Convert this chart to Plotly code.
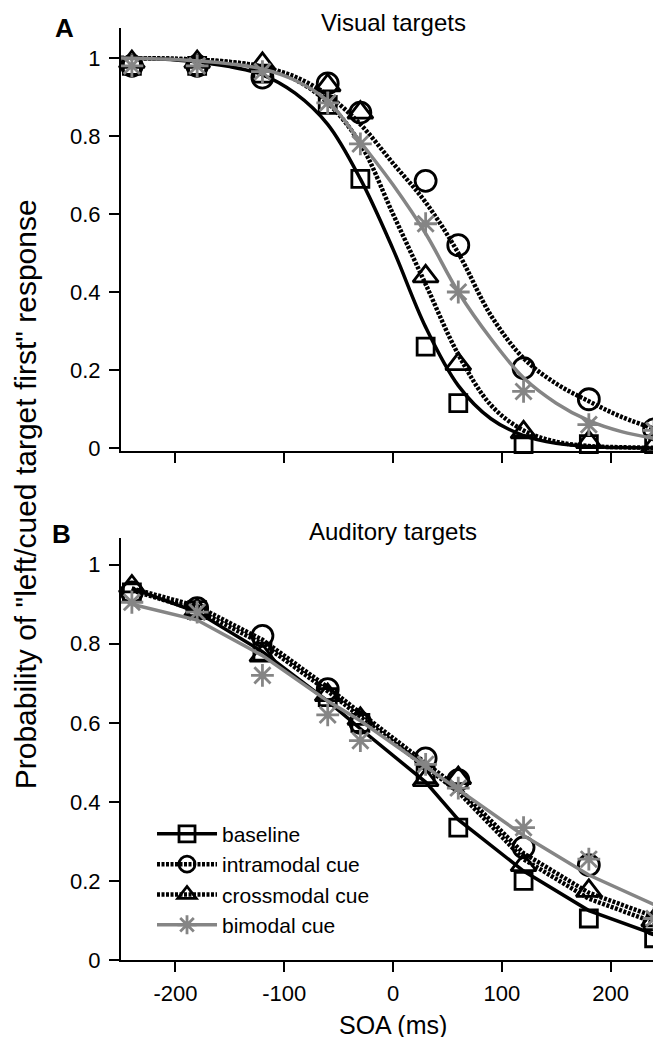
import plotly.graph_objects as go

# ---------------- data ----------------
SOA = [-240, -180, -120, -60, -30, 30, 60, 120, 180, 240]
SERIES = ["baseline", "intramodal cue", "crossmodal cue", "bimodal cue"]

# Panel A (visual targets): observed proportions
vis_base = [0.98, 0.98, 0.96, 0.88, 0.69, 0.26, 0.115, 0.01, 0.01, 0.01]
vis_intra = [0.98, 0.98, 0.95, 0.935, 0.86, 0.685, 0.52, 0.205, 0.125, 0.048]
vis_cross = [0.99, 0.99, 0.985, 0.93, 0.86, 0.44, 0.215, 0.04, 0.015, 0.005]
vis_bi = [0.98, 0.98, 0.965, 0.885, 0.78, 0.575, 0.40, 0.145, 0.06, 0.045]

# Panel A fitted curves
FIT_X = [-250, -200, -150, -120, -90, -60, -30, 0, 30, 60, 90, 120, 150, 180, 210, 250]
vis_base_fit = [1.0, 0.995, 0.978, 0.957, 0.91, 0.83, 0.69, 0.51, 0.31, 0.16, 0.075, 0.032, 0.012, 0.004, 0.001, 0.0]
vis_intra_fit = [1.0, 0.998, 0.99, 0.977, 0.952, 0.905, 0.83, 0.73, 0.63, 0.5, 0.34, 0.23, 0.165, 0.12, 0.08, 0.04]
vis_cross_fit = [1.0, 0.998, 0.99, 0.977, 0.945, 0.885, 0.78, 0.6, 0.42, 0.24, 0.11, 0.045, 0.016, 0.005, 0.002, 0.0]
vis_bi_fit = [1.0, 0.996, 0.985, 0.972, 0.943, 0.89, 0.785, 0.675, 0.55, 0.40, 0.28, 0.18, 0.115, 0.07, 0.042, 0.02]

# Panel B (auditory targets): observed proportions
aud_base = [0.93, 0.885, 0.78, 0.665, 0.6, 0.47, 0.335, 0.2, 0.105, 0.055]
aud_intra = [0.93, 0.89, 0.82, 0.685, 0.6, 0.51, 0.455, 0.285, 0.24, 0.09]
aud_cross = [0.945, 0.885, 0.77, 0.67, 0.61, 0.455, 0.46, 0.24, 0.175, 0.1]
aud_bi = [0.905, 0.88, 0.72, 0.62, 0.555, 0.495, 0.435, 0.335, 0.255, 0.105]

# Panel B fitted values at each SOA
aud_base_fit = [0.94, 0.88, 0.78, 0.655, 0.585, 0.45, 0.355, 0.225, 0.125, 0.065]
aud_intra_fit = [0.94, 0.895, 0.81, 0.69, 0.625, 0.5, 0.435, 0.27, 0.17, 0.11]
aud_cross_fit = [0.935, 0.885, 0.80, 0.68, 0.615, 0.49, 0.425, 0.255, 0.155, 0.095]
aud_bi_fit = [0.9, 0.86, 0.77, 0.655, 0.605, 0.49, 0.43, 0.315, 0.215, 0.14]

Y_TICKS = [0, 0.2, 0.4, 0.6, 0.8, 1]
Y_TICK_LABELS = ["0", "0.2", "0.4", "0.6", "0.8", "1"]
X_TICKS = [-200, -100, 0, 100, 200]
X_TICK_LABELS = ["-200", "-100", "0", "100", "200"]

# ---------------- styles ----------------
GRAY = "#858585"
FONT = "Liberation Sans, Arial, sans-serif"
styles = {
    "baseline": dict(color="black", dash="solid", symbol="square-open", msize=17, lw=3.5, mcolor="black"),
    "intramodal cue": dict(color="black", dash="3px,1.5px", symbol="circle-open", msize=21, lw=4.5, mcolor="black"),
    "crossmodal cue": dict(color="black", dash="3px,1.5px", symbol="triangle-up-open", msize=22, lw=4.5, mcolor="black"),
    "bimodal cue": dict(color=GRAY, dash="solid", symbol="asterisk-open", msize=19, lw=3.5, mcolor=GRAY),
}

fig = go.Figure()

vis_obs = [vis_base, vis_intra, vis_cross, vis_bi]
vis_fit = [vis_base_fit, vis_intra_fit, vis_cross_fit, vis_bi_fit]
aud_obs = [aud_base, aud_intra, aud_cross, aud_bi]
aud_fit = [aud_base_fit, aud_intra_fit, aud_cross_fit, aud_bi_fit]


def marker_of(st):
    return dict(symbol=st["symbol"], size=st["msize"], color=st["mcolor"],
                line=dict(color=st["mcolor"], width=2.8))


for name, fy, oy in zip(SERIES, vis_fit, vis_obs):
    st = styles[name]
    fig.add_trace(go.Scatter(x=FIT_X, y=fy, mode="lines", xaxis="x", yaxis="y",
                             line=dict(color=st["color"], width=st["lw"], dash=st["dash"], shape="spline", smoothing=1.0),
                             showlegend=False, cliponaxis=False, hoverinfo="skip"))
    fig.add_trace(go.Scatter(x=SOA, y=oy, mode="markers", xaxis="x", yaxis="y",
                             marker=marker_of(st), showlegend=False, cliponaxis=False))

for name, fy, oy in zip(SERIES, aud_fit, aud_obs):
    st = styles[name]
    fig.add_trace(go.Scatter(x=SOA, y=fy, mode="lines", xaxis="x2", yaxis="y2",
                             line=dict(color=st["color"], width=st["lw"], dash=st["dash"]),
                             showlegend=False, cliponaxis=False, hoverinfo="skip"))
    fig.add_trace(go.Scatter(x=SOA, y=oy, mode="markers", xaxis="x2", yaxis="y2",
                             marker=marker_of(st), showlegend=False, cliponaxis=False))

# legend entries
for name in SERIES:
    st = styles[name]
    fig.add_trace(go.Scatter(x=[None], y=[None], mode="lines+markers", name=name, xaxis="x2", yaxis="y2",
                             line=dict(color=st["color"], width=st["lw"], dash=st["dash"]),
                             marker=marker_of(st), showlegend=True))

axis_common = dict(showline=True, linecolor="black", linewidth=2, ticks="outside", ticklen=10,
                   tickwidth=2, tickcolor="black", showgrid=False, zeroline=False, automargin=False,
                   tickfont=dict(family=FONT, size=22, color="black"))

fig.update_layout(
    width=661, height=1037,
    margin=dict(l=113, r=4, t=20, b=85),
    plot_bgcolor="white", paper_bgcolor="white",
    font=dict(family=FONT, color="black"),
    xaxis=dict(domain=[0, 1], range=[-250, 250], anchor="y", tickvals=X_TICKS, showticklabels=False, **axis_common),
    yaxis=dict(domain=[0.546, 1], range=[-0.008, 1.077], anchor="x", tickvals=Y_TICKS, ticktext=Y_TICK_LABELS,
               ticklabelstandoff=4, **axis_common),
    xaxis2=dict(domain=[0, 1], range=[-250, 250], anchor="y2", tickvals=X_TICKS, ticktext=X_TICK_LABELS,
                ticklabelstandoff=3, **axis_common),
    yaxis2=dict(domain=[0, 0.453], range=[0, 1.068], anchor="x2", tickvals=Y_TICKS, ticktext=Y_TICK_LABELS,
                ticklabelstandoff=4, **axis_common),
    legend=dict(x=0.057, y=0.157, xanchor="left", yanchor="top", bgcolor="rgba(0,0,0,0)",
                font=dict(family=FONT, size=21, color="black"), itemwidth=60, tracegroupgap=0),
    showlegend=True,
    annotations=[
        dict(text="Visual targets", x=0.5, y=1.0, xref="paper", yref="paper", xanchor="center", yanchor="middle",
             yshift=6, showarrow=False, font=dict(family=FONT, size=24, color="black")),
        dict(text="Auditory targets", x=0.5, y=0.46, xref="paper", yref="paper", xanchor="center", yanchor="middle",
             showarrow=False, font=dict(family=FONT, size=24, color="black")),
        dict(text="SOA (ms)", x=0.5, y=-0.0697, xref="paper", yref="paper", xanchor="center", yanchor="middle",
             showarrow=False, font=dict(family=FONT, size=25, color="black")),
        dict(text="<b>A</b>", x=-0.103, y=1.0, xref="paper", yref="paper", xanchor="center", yanchor="middle",
             showarrow=False, font=dict(family=FONT, size=26, color="black")),
        dict(text="<b>B</b>", x=-0.110, y=0.457, xref="paper", yref="paper", xanchor="center", yanchor="middle",
             showarrow=False, font=dict(family=FONT, size=26, color="black")),
        dict(text='Probability of "left/cued target first" response', x=-0.176, y=0.50, xref="paper", yref="paper",
             xanchor="center", yanchor="middle", textangle=-90, showarrow=False,
             font=dict(family=FONT, size=30, color="black")),
    ],
)

fig.write_html("out.html")
